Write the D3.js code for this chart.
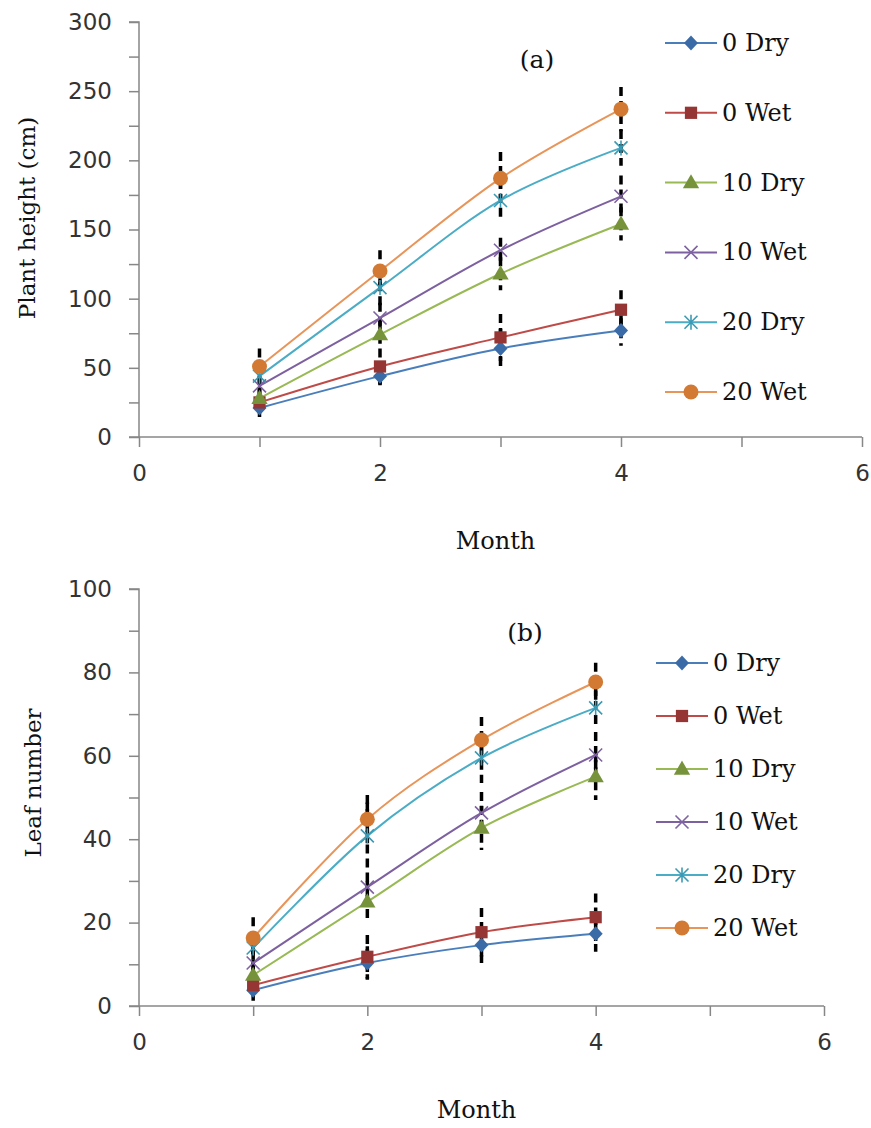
<!DOCTYPE html>
<html>
<head>
<meta charset="utf-8">
<script src="https://cdn.jsdelivr.net/npm/d3@7"></script>
<style>
  html, body { margin: 0; padding: 0; background: #fff; }
  svg { display: block; }
</style>
</head>
<body>
<svg id="chart" width="871" height="1128"></svg>
<script>
// ---------- DATA ----------
const months = [1, 2, 3, 4];
const seriesNames = ["0 Dry", "0 Wet", "10 Dry", "10 Wet", "20 Dry", "20 Wet"];

// (a) Plant height (cm)
const heightValues = [
  [21, 44, 64, 77],
  [25, 51, 72, 92],
  [28, 74, 118, 154],
  [37, 86, 135, 174],
  [44, 108, 171, 209],
  [51, 120, 187, 237]
];
const heightErrors = [
  [10, 10, 14, 11],
  [10, 13, 17, 14],
  [8, 10, 12, 12],
  [8, 11, 9, 15],
  [10, 14, 15, 13],
  [13, 15, 19, 16]
];
const heightTicks = [0, 50, 100, 150, 200, 250, 300];

// (b) Leaf number
const leafValues = [
  [3.8, 10.3, 14.6, 17.3],
  [5.0, 11.8, 17.7, 21.3],
  [7.4, 25.0, 42.7, 55.0],
  [10.3, 28.5, 46.3, 60.2],
  [13.9, 40.8, 59.5, 71.5],
  [16.3, 44.8, 63.8, 77.7]
];
const leafErrors = [
  [3, 4, 4.3, 4.3],
  [3, 5.2, 5.8, 5.7],
  [3, 5, 5.3, 5.6],
  [3, 3.5, 5, 5.5],
  [4, 8, 6, 5],
  [5, 5.8, 5.5, 4.6]
];
const leafTicks = [0, 20, 40, 60, 80, 100];

const monthTicks = [0, 2, 4, 6];

// ---------- STYLE ----------
const lineColors   = ["#4A7EBB", "#BE4B48", "#98B954", "#7D60A0", "#4BACC6", "#E8955A"];
const markerColors = ["#3A6BA6", "#963634", "#76933C", "#7E62A1", "#3B9AB4", "#D27A33"];
const markerTypes  = ["diamond", "square", "triangle", "x", "star", "circle"];
const axisColor = "#878787";
const serif = "'DejaVu Serif', serif";
const sans = "'DejaVu Sans', sans-serif";

const svg = d3.select("#chart");

function drawMarker(g, type, x, y, i) {
  const c = markerColors[i];
  if (type === "diamond") {
    const w = 7, h = 7.5;
    g.append("path").attr("d", `M${x},${y - h}L${x + w},${y}L${x},${y + h}L${x - w},${y}Z`)
      .attr("fill", c);
  } else if (type === "square") {
    g.append("path").attr("d", d3.symbol(d3.symbolSquare, 150)())
      .attr("transform", `translate(${x},${y})`).attr("fill", c);
  } else if (type === "triangle") {
    g.append("path").attr("d", d3.symbol(d3.symbolTriangle, 115)())
      .attr("transform", `translate(${x},${y + 1})`).attr("fill", c);
  } else if (type === "circle") {
    g.append("circle").attr("cx", x).attr("cy", y).attr("r", 7.5).attr("fill", c);
  } else if (type === "x" || type === "star") {
    const s = 6.5;
    const p = `M${x - s},${y - s}L${x + s},${y + s}M${x - s},${y + s}L${x + s},${y - s}` +
      (type === "star" ? `M${x},${y - s - 1}L${x},${y + s + 1}` : "");
    g.append("path").attr("d", p).attr("stroke", c).attr("stroke-width", 1.6).attr("fill", "none");
  }
}

function drawPanel(cfg) {
  const g = svg.append("g");
  const x = d3.scaleLinear().domain([0, 6]).range(cfg.xRange);
  const y = d3.scaleLinear().domain([0, cfg.yMax]).range(cfg.yRange);

  // Y axis
  const yAxis = d3.axisLeft(y)
    .tickValues(d3.range(0, cfg.yMax + 0.001, cfg.minorStep))
    .tickSize(10)
    .tickFormat(d => cfg.yTicks.includes(d) ? d : "");
  const ya = g.append("g").attr("transform", `translate(${cfg.xRange[0]},0)`).call(yAxis);
  ya.select(".domain").attr("stroke", axisColor).attr("stroke-width", 1.5)
    .attr("d", `M-10,${cfg.yRange[1]}H0V${cfg.yRange[0]}`);
  ya.selectAll(".tick line").attr("stroke", axisColor).attr("stroke-width", 1.5);
  ya.selectAll(".tick text").attr("font-family", sans).attr("font-size", 23)
    .attr("fill", "#333").attr("x", -27);

  // X axis
  const xAxis = d3.axisBottom(x)
    .tickValues(d3.range(0, 7, 1))
    .tickSize(10)
    .tickFormat(d => monthTicks.includes(d) ? d : "");
  const xa = g.append("g").attr("transform", `translate(0,${cfg.yRange[0]})`).call(xAxis);
  xa.select(".domain").attr("stroke", axisColor).attr("stroke-width", 1.5)
    .attr("d", `M${cfg.xRange[0] - 10},0H${cfg.xRange[1]}`);
  xa.selectAll(".tick line").attr("stroke", axisColor).attr("stroke-width", 1.5);
  xa.selectAll(".tick text").attr("font-family", sans).attr("font-size", 23)
    .attr("fill", "#333").attr("y", 28);

  // Axis titles
  g.append("text").attr("x", (cfg.xRange[0] + cfg.xRange[1]) / 2 - 5)
    .attr("y", cfg.monthY).attr("text-anchor", "middle")
    .attr("font-family", serif).attr("font-size", 24).attr("fill", "#111").text("Month");
  g.append("text")
    .attr("transform", `translate(${cfg.yTitleX},${cfg.yTitleY}) rotate(-90)`)
    .attr("text-anchor", "middle").attr("font-family", serif).attr("font-size", 23)
    .attr("fill", "#111").text(cfg.yTitle);

  // Panel label
  g.append("text").attr("x", cfg.labelX).attr("y", cfg.labelY).attr("text-anchor", "middle")
    .attr("font-family", serif).attr("font-size", 25).attr("fill", "#111").text(cfg.label);

  // Error bars
  const eg = g.append("g");
  cfg.values.forEach((vals, i) => {
    vals.forEach((v, j) => {
      const e = cfg.errors[i][j];
      eg.append("line")
        .attr("x1", x(months[j])).attr("x2", x(months[j]))
        .attr("y1", y(v + e)).attr("y2", y(v - e))
        .attr("stroke", "#000").attr("stroke-width", 3.5)
        .attr("stroke-dasharray", "9,5");
    });
  });

  // Lines
  const line = d3.line().x((d, j) => x(months[j])).y(d => y(d))
    .curve(d3.curveCatmullRom.alpha(0));
  cfg.values.forEach((vals, i) => {
    g.append("path").attr("d", line(vals)).attr("fill", "none")
      .attr("stroke", lineColors[i]).attr("stroke-width", 2);
  });

  // Markers
  const mg = g.append("g");
  cfg.values.forEach((vals, i) => {
    vals.forEach((v, j) => drawMarker(mg, markerTypes[i], x(months[j]), y(v), i));
  });

  // Legend
  const lg = g.append("g");
  seriesNames.forEach((name, i) => {
    const ly = cfg.legendY0 + i * cfg.legendStep;
    lg.append("line").attr("x1", cfg.legendX).attr("x2", cfg.legendX + 52)
      .attr("y1", ly).attr("y2", ly).attr("stroke", lineColors[i]).attr("stroke-width", 2);
    drawMarker(lg, markerTypes[i], cfg.legendX + 26, ly, i);
    lg.append("text").attr("x", cfg.legendX + 57).attr("y", ly + 8)
      .attr("font-family", serif).attr("font-size", 24).attr("fill", "#111").text(name);
  });
}

drawPanel({
  values: heightValues, errors: heightErrors,
  yMax: 300, minorStep: 25, yTicks: heightTicks,
  xRange: [139, 862], yRange: [437, 22],
  monthY: 549, yTitle: "Plant height (cm)", yTitleX: 35, yTitleY: 218,
  label: "(a)", labelX: 537, labelY: 68,
  legendX: 665, legendY0: 43, legendStep: 69.8
});

drawPanel({
  values: leafValues, errors: leafErrors,
  yMax: 100, minorStep: 10, yTicks: leafTicks,
  xRange: [139, 824], yRange: [1006, 589],
  monthY: 1118, yTitle: "Leaf number", yTitleX: 41, yTitleY: 783,
  label: "(b)", labelX: 525, labelY: 641,
  legendX: 656, legendY0: 663, legendStep: 53
});
</script>
</body>
</html>
